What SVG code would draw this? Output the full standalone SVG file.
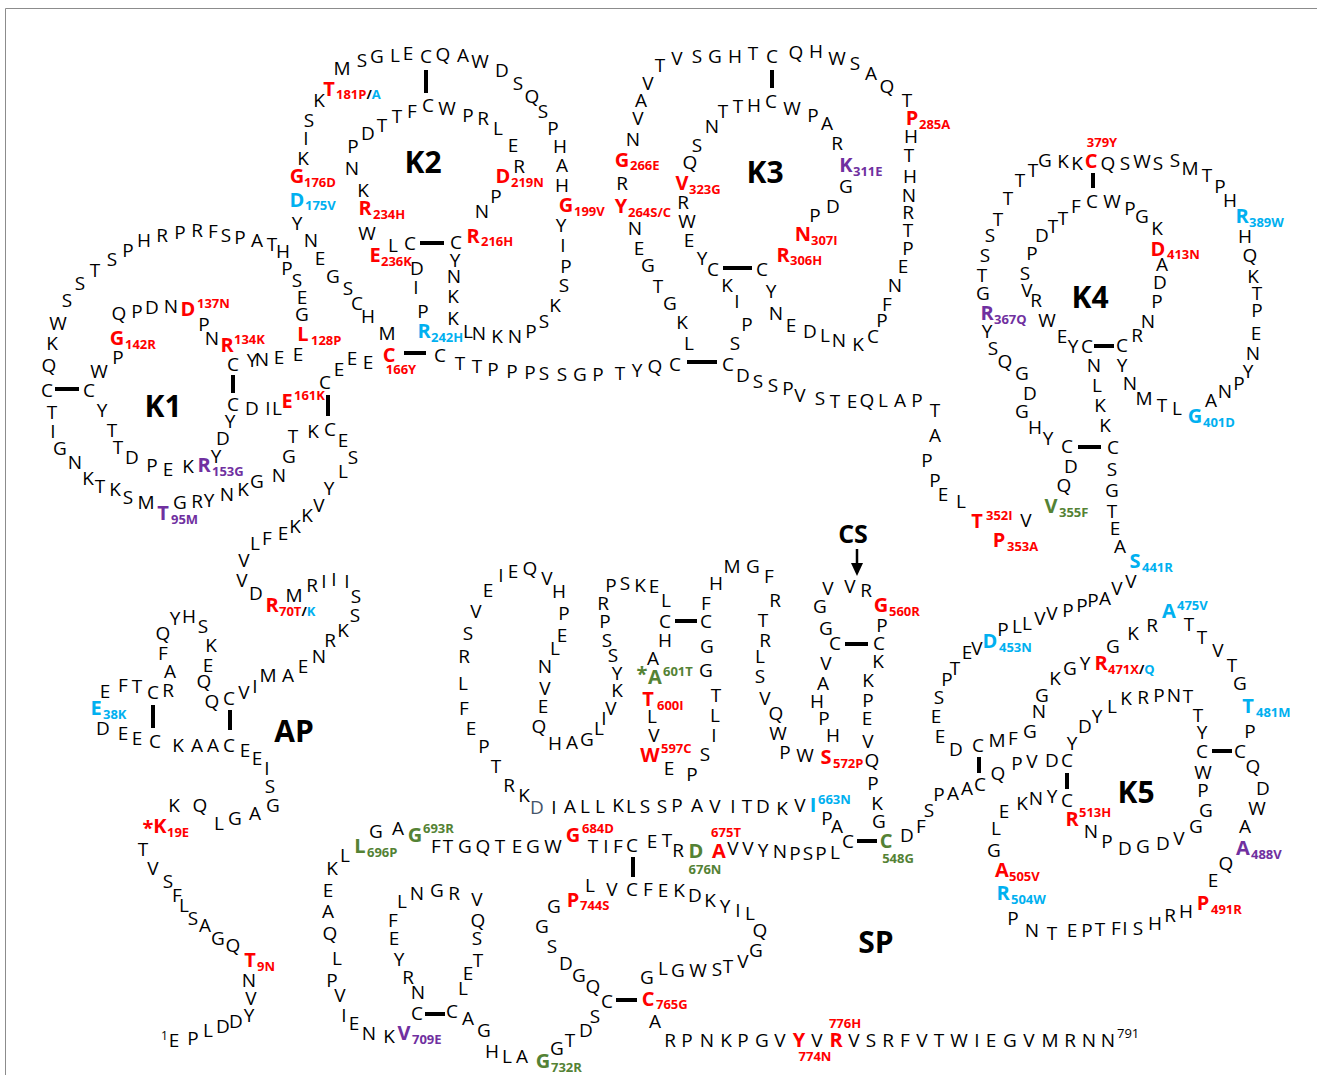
<svg xmlns="http://www.w3.org/2000/svg" width="1317" height="1075" viewBox="0 0 1317 1075">
<style>
text{font-family:"Open Sans","Liberation Sans",sans-serif}
.aa text{font-size:19px;text-anchor:middle;fill:#000}
.mu{font-size:20px;font-weight:bold;text-anchor:middle}
.sb{font-size:13px;font-weight:bold;text-anchor:start}
.sc{font-size:13px;font-weight:bold;text-anchor:middle}
.rd{fill:#ff0000}.bl{fill:#00b0f0}.pu{fill:#7030a0}.gn{fill:#548235}.sl{fill:#44546a}.bk{fill:#000}
.dom{font-size:30px;font-weight:bold;text-anchor:middle;fill:#000}
.num{font-size:12px;fill:#000}
.bar{stroke:#000;stroke-width:4;fill:none}
</style>
<rect width="1317" height="1075" fill="#fff"/>
<path d="M5.5 1075V8.5H1317" fill="none" stroke="#8c8c8c" stroke-width="1"/>

<!-- disulfide bridges and cleavage arrow -->
<g id="connectors">
<path class="bar" d="M55 389H79M233 375V393M328 395V416"/>
<path class="bar" d="M404 353H426M420 243H444M426 70V93"/>
<path class="bar" d="M772 70V88M723 268H752M687 362H717"/>
<path class="bar" d="M1093 173V188M1094 346H1114M1078 447H1101"/>
<path class="bar" d="M153 705V728M230 710V730"/>
<path class="bar" d="M979 757V773M1067 773V789M1212 751H1232"/>
<path class="bar" d="M845 644H868M675 621H697M857 841H877M633 857V877M425 1014H445M616 1000H637"/>
<path d="M857 549V566" stroke="#000" stroke-width="2.5"/>
<polygon points="851,563 863,563 857,576" fill="#000"/>
</g>

<g id="n-terminus">
<text class="num" x="161" y="1040">1</text>
<g class="aa">
<text x="174" y="1047">E</text><text x="193" y="1045">P</text><text x="208" y="1037">L</text><text x="223" y="1033">D</text><text x="236" y="1028">D</text><text x="249" y="1022">Y</text><text x="251" y="1005">V</text><text x="249" y="987">N</text><text x="233" y="952">Q</text><text x="218" y="945">G</text><text x="205" y="932">A</text><text x="193" y="925">S</text><text x="184" y="912">L</text><text x="177" y="902">F</text><text x="168" y="888">S</text><text x="153" y="875">V</text><text x="143" y="856">T</text><text x="174" y="812">K</text><text x="200" y="812">Q</text><text x="219" y="830">L</text><text x="235" y="825">G</text><text x="255" y="820">A</text><text x="273" y="812">G</text><text x="270" y="793">S</text><text x="267" y="775">I</text><text x="257" y="765">E</text><text x="245" y="757">E</text>
</g>
<text class="mu rd" x="250" y="967">T</text><text class="sb rd" x="257" y="971">9N</text>
<text class="mu rd" x="148" y="835">*</text><text class="mu rd" x="160" y="833">K</text><text class="sb rd" x="167" y="837">19E</text>
</g>

<g id="AP">
<g class="aa">
<text x="229" y="752">C</text><text x="213" y="752">A</text><text x="197" y="752">A</text><text x="178" y="752">K</text><text x="155" y="748">C</text><text x="137" y="745">E</text><text x="123" y="740">E</text><text x="103" y="735">D</text><text x="105" y="698">E</text><text x="123" y="692">F</text><text x="137" y="693">T</text><text x="153" y="699">C</text><text x="168" y="697">R</text><text x="170" y="678">A</text><text x="163" y="660">F</text><text x="163" y="640">Q</text><text x="175" y="625">Y</text><text x="189" y="623">H</text><text x="203" y="633">S</text><text x="211" y="652">K</text><text x="208" y="672">E</text><text x="204" y="688">Q</text><text x="212" y="708">Q</text><text x="229" y="705">C</text><text x="244" y="699">V</text><text x="255" y="693">I</text><text x="268" y="682">M</text><text x="288" y="682">A</text><text x="303" y="673">E</text><text x="319" y="663">N</text><text x="330" y="647">R</text><text x="343" y="637">K</text><text x="355" y="622">S</text><text x="356" y="603">S</text><text x="347" y="588">I</text><text x="334" y="586">I</text><text x="324" y="588">I</text><text x="312" y="592">R</text><text x="294" y="602">M</text><text x="256" y="600">D</text><text x="242" y="587">V</text><text x="244" y="567">V</text><text x="255" y="550">L</text><text x="267" y="545">F</text><text x="283" y="540">E</text><text x="295" y="533">K</text><text x="307" y="522">K</text><text x="319" y="512">V</text><text x="329" y="495">Y</text><text x="343" y="478">L</text><text x="353" y="464">S</text><text x="343" y="447">E</text>
</g>
<text class="mu bl" x="96" y="715">E</text><text class="sb bl" x="103" y="719">38K</text>
<text class="mu rd" x="272" y="612">R</text><text class="sb" x="279" y="616"><tspan class="rd">70T</tspan><tspan class="bk">/</tspan><tspan class="bl">K</tspan></text>
<text class="dom" x="294" y="742">AP</text>
</g>

<g id="K1">
<g class="aa">
<text x="330" y="436">C</text><text x="313" y="438">K</text><text x="293" y="443">T</text><text x="289" y="463">G</text><text x="279" y="482">N</text><text x="257" y="488">G</text><text x="243" y="496">K</text><text x="227" y="501">N</text><text x="209" y="507">Y</text><text x="197" y="508">R</text><text x="180" y="509">G</text><text x="146" y="509">M</text><text x="128" y="504">S</text><text x="115" y="496">K</text><text x="100" y="493">T</text><text x="88" y="485">K</text><text x="75" y="469">N</text><text x="60" y="455">G</text><text x="53" y="438">I</text><text x="52" y="419">T</text><text x="47" y="397">C</text><text x="49" y="372">Q</text><text x="52" y="350">K</text><text x="58" y="330">W</text><text x="67" y="307">S</text><text x="80" y="290">S</text><text x="95" y="277">T</text><text x="112" y="266">S</text><text x="128" y="257">P</text><text x="144" y="247">H</text><text x="162" y="242">R</text><text x="180" y="239">P</text><text x="197" y="237">R</text><text x="213" y="238">F</text><text x="226" y="242">S</text><text x="240" y="244">P</text><text x="257" y="247">A</text><text x="272" y="251">T</text><text x="283" y="258">H</text><text x="287" y="275">P</text><text x="297" y="287">S</text><text x="302" y="304">E</text><text x="302" y="321">G</text><text x="298" y="361">E</text><text x="279" y="364">E</text><text x="262" y="366">N</text><text x="252" y="367">Y</text><text x="233" y="371">C</text><text x="212" y="345">N</text><text x="204" y="331">P</text><text x="171" y="313">N</text><text x="152" y="314">D</text><text x="137" y="318">P</text><text x="119" y="320">Q</text><text x="118" y="364">P</text><text x="99" y="378">W</text><text x="89" y="397">C</text><text x="102" y="417">Y</text><text x="112" y="437">T</text><text x="118" y="454">T</text><text x="132" y="464">D</text><text x="152" y="472">P</text><text x="168" y="476">E</text><text x="188" y="473">K</text><text x="216" y="463">Y</text><text x="223" y="445">D</text><text x="230" y="428">Y</text><text x="233" y="411">C</text><text x="252" y="415">D</text><text x="268" y="415">I</text><text x="277" y="415">L</text><text x="325" y="389">C</text><text x="339" y="376">E</text><text x="352" y="365">E</text><text x="368" y="369">E</text>
</g>
<text class="mu pu" x="163" y="520">T</text><text class="sb pu" x="171" y="524">95M</text>
<text class="mu rd" x="303" y="341">L</text><text class="sb rd" x="311" y="345">128P</text>
<text class="mu rd" x="227" y="352">R</text><text class="sb rd" x="234" y="344">134K</text>
<text class="mu rd" x="188" y="316">D</text><text class="sb rd" x="197" y="308">137N</text>
<text class="mu rd" x="117" y="345">G</text><text class="sb rd" x="125" y="349">142R</text>
<text class="mu pu" x="204" y="472">R</text><text class="sb pu" x="212" y="476">153G</text>
<text class="mu rd" x="287" y="408">E</text><text class="sb rd" x="294" y="400">161K</text>
<text class="dom" x="163" y="417">K1</text>
</g>

<g id="K2">
<g class="aa">
<text x="342" y="75">M</text><text x="362" y="67">S</text><text x="377" y="63">G</text><text x="395" y="62">L</text><text x="408" y="60">E</text><text x="426" y="63">C</text><text x="443" y="61">Q</text><text x="463" y="62">A</text><text x="480" y="68">W</text><text x="502" y="77">D</text><text x="518" y="90">S</text><text x="532" y="103">Q</text><text x="543" y="118">S</text><text x="553" y="135">P</text><text x="560" y="153">H</text><text x="562" y="172">A</text><text x="562" y="192">H</text><text x="561" y="232">Y</text><text x="563" y="252">I</text><text x="566" y="273">P</text><text x="564" y="292">S</text><text x="555" y="312">K</text><text x="544" y="328">S</text><text x="531" y="338">P</text><text x="515" y="343">N</text><text x="497" y="343">K</text><text x="479" y="340">N</text><text x="468" y="338">L</text><text x="453" y="325">K</text><text x="453" y="303">K</text><text x="454" y="283">N</text><text x="455" y="267">Y</text><text x="456" y="249">C</text><text x="410" y="250">C</text><text x="393" y="252">L</text><text x="417" y="275">D</text><text x="416" y="294">I</text><text x="423" y="318">P</text><text x="440" y="362">C</text><text x="387" y="340">M</text><text x="368" y="323">H</text><text x="357" y="310">C</text><text x="348" y="295">S</text><text x="333" y="283">G</text><text x="320" y="265">E</text><text x="311" y="247">N</text><text x="297" y="230">Y</text><text x="303" y="165">K</text><text x="306" y="145">I</text><text x="309" y="127">S</text><text x="319" y="107">K</text><text x="368" y="140">D</text><text x="382" y="132">T</text><text x="397" y="123">T</text><text x="412" y="118">F</text><text x="428" y="112">C</text><text x="447" y="115">W</text><text x="468" y="122">P</text><text x="483" y="125">R</text><text x="498" y="135">L</text><text x="513" y="152">E</text><text x="519" y="173">R</text><text x="496" y="203">P</text><text x="482" y="218">N</text><text x="353" y="153">P</text><text x="352" y="175">N</text><text x="363" y="197">K</text><text x="367" y="240">W</text>
</g>
<text class="mu rd" x="389" y="362">C</text><text class="sc rd" x="401" y="374">166Y</text>
<text class="mu rd" x="566" y="212">G</text><text class="sb rd" x="574" y="216">199V</text>
<text class="mu bl" x="424" y="338">R</text><text class="sb bl" x="431" y="342">242H</text>
<text class="mu bl" x="297" y="207">D</text><text class="sb bl" x="305" y="210">175V</text>
<text class="mu rd" x="297" y="183">G</text><text class="sb rd" x="304" y="187">176D</text>
<text class="mu rd" x="329" y="96">T</text><text class="sb" x="336" y="99"><tspan class="rd">181P</tspan><tspan class="bk">/</tspan><tspan class="bl">A</tspan></text>
<text class="mu rd" x="503" y="183">D</text><text class="sb rd" x="511" y="187">219N</text>
<text class="mu rd" x="473" y="243">R</text><text class="sb rd" x="481" y="246">216H</text>
<text class="mu rd" x="365" y="215">R</text><text class="sb rd" x="373" y="219">234H</text>
<text class="mu rd" x="375" y="262">E</text><text class="sb rd" x="381" y="266">236K</text>
<text class="dom" x="423" y="173">K2</text>
</g>

<g id="linker-K2-K3" class="aa">
<text x="460" y="370">T</text><text x="477" y="373">T</text><text x="493" y="376">P</text><text x="512" y="378">P</text><text x="530" y="379">P</text><text x="544" y="380">S</text><text x="562" y="381">S</text><text x="580" y="381">G</text><text x="598" y="381">P</text><text x="620" y="380">T</text><text x="637" y="377">Y</text><text x="655" y="373">Q</text>
</g>

<g id="K3">
<g class="aa">
<text x="633" y="146">N</text><text x="638" y="125">V</text><text x="641" y="107">A</text><text x="648" y="90">V</text><text x="660" y="72">T</text><text x="677" y="65">V</text><text x="697" y="63">S</text><text x="715" y="63">G</text><text x="735" y="63">H</text><text x="753" y="60">T</text><text x="772" y="63">C</text><text x="796" y="59">Q</text><text x="816" y="58">H</text><text x="837" y="65">W</text><text x="855" y="70">S</text><text x="871" y="80">A</text><text x="887" y="93">Q</text><text x="907" y="107">T</text><text x="911" y="143">H</text><text x="909" y="162">T</text><text x="910" y="183">H</text><text x="909" y="202">N</text><text x="908" y="219">R</text><text x="908" y="237">T</text><text x="908" y="255">P</text><text x="903" y="273">E</text><text x="895" y="292">N</text><text x="887" y="311">F</text><text x="882" y="327">P</text><text x="873" y="343">C</text><text x="858" y="351">K</text><text x="839" y="347">N</text><text x="825" y="342">L</text><text x="810" y="338">D</text><text x="791" y="332">E</text><text x="776" y="320">N</text><text x="771" y="298">Y</text><text x="762" y="276">C</text><text x="713" y="276">C</text><text x="702" y="265">Y</text><text x="689" y="247">E</text><text x="687" y="228">W</text><text x="683" y="209">R</text><text x="690" y="169">Q</text><text x="697" y="152">S</text><text x="712" y="133">N</text><text x="723" y="118">T</text><text x="738" y="113">T</text><text x="754" y="112">H</text><text x="771" y="108">C</text><text x="792" y="115">W</text><text x="813" y="122">P</text><text x="827" y="130">A</text><text x="837" y="150">R</text><text x="846" y="193">G</text><text x="833" y="213">D</text><text x="815" y="222">P</text><text x="727" y="292">K</text><text x="737" y="308">I</text><text x="747" y="331">P</text><text x="735" y="350">S</text><text x="728" y="371">C</text><text x="675" y="371">C</text><text x="689" y="350">L</text><text x="682" y="329">K</text><text x="670" y="310">G</text><text x="658" y="293">T</text><text x="648" y="272">G</text><text x="639" y="255">E</text><text x="635" y="235">N</text><text x="622" y="190">R</text>
</g>
<text class="mu rd" x="622" y="167">G</text><text class="sb rd" x="630" y="170">266E</text>
<text class="mu rd" x="912" y="125">P</text><text class="sb rd" x="919" y="129">285A</text>
<text class="mu rd" x="682" y="190">V</text><text class="sb rd" x="689" y="194">323G</text>
<text class="mu pu" x="846" y="172">K</text><text class="sb pu" x="853" y="176">311E</text>
<text class="mu rd" x="803" y="241">N</text><text class="sb rd" x="811" y="245">307I</text>
<text class="mu rd" x="783" y="262">R</text><text class="sb rd" x="790" y="265">306H</text>
<text class="mu rd" x="621" y="213">Y</text><text class="sb rd" x="628" y="217">264S/C</text>
<text class="dom" x="765" y="183">K3</text>
</g>

<g id="linker-K3-K4">
<g class="aa">
<text x="743" y="382">D</text><text x="758" y="388">S</text><text x="773" y="392">S</text><text x="788" y="395">P</text><text x="800" y="402">V</text><text x="820" y="405">S</text><text x="835" y="408">T</text><text x="852" y="408">E</text><text x="867" y="407">Q</text><text x="883" y="407">L</text><text x="900" y="407">A</text><text x="917" y="407">P</text><text x="935" y="417">T</text><text x="935" y="442">A</text><text x="927" y="467">P</text><text x="935" y="487">P</text><text x="943" y="501">E</text><text x="961" y="508">L</text><text x="1026" y="527">V</text><text x="1064" y="492">Q</text><text x="1071" y="473">D</text>
</g>
<text class="mu rd" x="977" y="528">T</text><text class="sb rd" x="986" y="520">352I</text>
<text class="mu rd" x="999" y="547">P</text><text class="sb rd" x="1007" y="551">353A</text>
<text class="mu gn" x="1051" y="513">V</text><text class="sb gn" x="1059" y="517">355F</text>
</g>

<g id="K4">
<g class="aa">
<text x="1067" y="453">C</text><text x="1048" y="445">Y</text><text x="1035" y="434">H</text><text x="1022" y="418">G</text><text x="1030" y="400">D</text><text x="1022" y="380">G</text><text x="1005" y="368">Q</text><text x="993" y="355">S</text><text x="987" y="338">Y</text><text x="983" y="300">G</text><text x="982" y="282">T</text><text x="985" y="262">S</text><text x="990" y="242">S</text><text x="998" y="226">T</text><text x="1008" y="205">T</text><text x="1020" y="187">T</text><text x="1033" y="177">T</text><text x="1045" y="167">G</text><text x="1063" y="168">K</text><text x="1077" y="170">K</text><text x="1108" y="170">Q</text><text x="1125" y="170">S</text><text x="1142" y="168">W</text><text x="1158" y="170">S</text><text x="1175" y="167">S</text><text x="1190" y="175">M</text><text x="1207" y="182">T</text><text x="1220" y="193">P</text><text x="1230" y="207">H</text><text x="1245" y="243">H</text><text x="1250" y="262">Q</text><text x="1253" y="283">K</text><text x="1257" y="300">T</text><text x="1257" y="317">P</text><text x="1256" y="340">E</text><text x="1253" y="360">N</text><text x="1248" y="378">Y</text><text x="1239" y="390">P</text><text x="1225" y="398">N</text><text x="1211" y="407">A</text><text x="1177" y="415">L</text><text x="1162" y="412">T</text><text x="1144" y="405">M</text><text x="1130" y="390">N</text><text x="1122" y="372">Y</text><text x="1122" y="352">C</text><text x="1137" y="342">R</text><text x="1148" y="328">N</text><text x="1157" y="308">P</text><text x="1160" y="289">D</text><text x="1162" y="271">A</text><text x="1157" y="235">K</text><text x="1142" y="223">G</text><text x="1130" y="215">P</text><text x="1112" y="208">W</text><text x="1092" y="208">C</text><text x="1076" y="213">F</text><text x="1063" y="225">T</text><text x="1053" y="233">T</text><text x="1042" y="242">D</text><text x="1032" y="260">P</text><text x="1025" y="280">S</text><text x="1027" y="297">V</text><text x="1036" y="307">R</text><text x="1047" y="327">W</text><text x="1062" y="343">E</text><text x="1073" y="353">Y</text><text x="1087" y="353">C</text><text x="1094" y="372">N</text><text x="1097" y="392">L</text><text x="1100" y="412">K</text><text x="1105" y="432">K</text><text x="1113" y="454">C</text><text x="1112" y="476">S</text><text x="1112" y="497">G</text><text x="1112" y="518">T</text><text x="1115" y="535">E</text><text x="1120" y="553">A</text>
</g>
<text class="mu pu" x="987" y="320">R</text><text class="sb pu" x="994" y="324">367Q</text>
<text class="mu rd" x="1091" y="168">C</text><text class="sc rd" x="1102" y="147">379Y</text>
<text class="mu bl" x="1242" y="223">R</text><text class="sb bl" x="1249" y="227">389W</text>
<text class="mu bl" x="1195" y="423">G</text><text class="sb bl" x="1203" y="427">401D</text>
<text class="mu rd" x="1158" y="256">D</text><text class="sb rd" x="1167" y="259">413N</text>
<text class="mu bl" x="1135" y="568">S</text><text class="sb bl" x="1142" y="572">441R</text>
<text class="dom" x="1090" y="308">K4</text>
</g>

<g id="linker-K4-K5">
<g class="aa">
<text x="1131" y="588">V</text><text x="1117" y="595">V</text><text x="1105" y="605">A</text><text x="1093" y="607">P</text><text x="1082" y="612">P</text><text x="1068" y="617">P</text><text x="1052" y="620">V</text><text x="1040" y="625">V</text><text x="1027" y="630">L</text><text x="1017" y="633">L</text><text x="1003" y="636">P</text><text x="977" y="655">V</text><text x="967" y="659">E</text><text x="955" y="675">T</text><text x="947" y="686">P</text><text x="939" y="704">S</text><text x="936" y="723">E</text><text x="940" y="743">E</text><text x="956" y="756">D</text><text x="978" y="752">C</text><text x="980" y="791">C</text><text x="967" y="795">A</text><text x="953" y="800">A</text><text x="939" y="801">P</text><text x="929" y="817">S</text><text x="921" y="833">F</text><text x="907" y="842">D</text>
</g>
<text class="mu bl" x="990" y="648">D</text><text class="sb bl" x="999" y="652">453N</text>
</g>

<g id="K5">
<g class="aa">
<text x="997" y="747">M</text><text x="1013" y="745">F</text><text x="1030" y="738">G</text><text x="1039" y="718">N</text><text x="1042" y="702">G</text><text x="1055" y="685">K</text><text x="1070" y="675">G</text><text x="1085" y="670">Y</text><text x="1113" y="653">G</text><text x="1133" y="640">K</text><text x="1152" y="632">R</text><text x="1189" y="631">T</text><text x="1202" y="644">T</text><text x="1218" y="657">V</text><text x="1232" y="672">T</text><text x="1240" y="690">G</text><text x="1250" y="738">P</text><text x="1240" y="758">C</text><text x="1202" y="758">C</text><text x="1253" y="773">Q</text><text x="1263" y="795">D</text><text x="1257" y="815">W</text><text x="1245" y="833">A</text><text x="1226" y="870">Q</text><text x="1213" y="887">E</text><text x="1186" y="918">H</text><text x="1170" y="922">R</text><text x="1155" y="930">H</text><text x="1138" y="935">S</text><text x="1125" y="935">I</text><text x="1116" y="935">F</text><text x="1100" y="936">T</text><text x="1087" y="937">P</text><text x="1072" y="937">E</text><text x="1052" y="940">T</text><text x="1032" y="937">N</text><text x="1013" y="925">P</text><text x="994" y="857">G</text><text x="996" y="835">L</text><text x="1004" y="818">E</text><text x="1022" y="810">K</text><text x="1036" y="805">N</text><text x="1052" y="803">Y</text><text x="1067" y="807">C</text><text x="1067" y="767">C</text><text x="1052" y="767">D</text><text x="1032" y="768">V</text><text x="1017" y="770">P</text><text x="998" y="780">Q</text><text x="1072" y="750">Y</text><text x="1085" y="733">D</text><text x="1097" y="723">Y</text><text x="1112" y="713">L</text><text x="1126" y="705">K</text><text x="1143" y="704">R</text><text x="1159" y="702">P</text><text x="1174" y="702">N</text><text x="1188" y="703">T</text><text x="1198" y="722">T</text><text x="1202" y="739">Y</text><text x="1203" y="779">W</text><text x="1203" y="797">P</text><text x="1206" y="817">G</text><text x="1196" y="833">G</text><text x="1179" y="845">V</text><text x="1163" y="850">D</text><text x="1143" y="853">G</text><text x="1125" y="855">D</text><text x="1107" y="848">P</text><text x="1091" y="838">N</text>
</g>
<text class="mu rd" x="1101" y="670">R</text><text class="sb" x="1108" y="674"><tspan class="rd">471X</tspan><tspan class="bk">/</tspan><tspan class="bl">Q</tspan></text>
<text class="mu bl" x="1169" y="618">A</text><text class="sb bl" x="1177" y="610">475V</text>
<text class="mu bl" x="1248" y="713">T</text><text class="sb bl" x="1256" y="717">481M</text>
<text class="mu pu" x="1243" y="855">A</text><text class="sb pu" x="1251" y="859">488V</text>
<text class="mu rd" x="1203" y="910">P</text><text class="sb rd" x="1211" y="914">491R</text>
<text class="mu bl" x="1003" y="900">R</text><text class="sb bl" x="1011" y="904">504W</text>
<text class="mu rd" x="1002" y="877">A</text><text class="sb rd" x="1009" y="881">505V</text>
<text class="mu rd" x="1072" y="826">R</text><text class="sb rd" x="1079" y="817">513H</text>
<text class="dom" x="1136" y="803">K5</text>
</g>

<g id="SP">
<g class="aa">
<text x="828" y="595">V</text><text x="850" y="593">V</text><text x="866" y="597">R</text><text x="882" y="632">P</text><text x="879" y="650">C</text><text x="835" y="650">C</text><text x="826" y="635">G</text><text x="820" y="613">G</text><text x="878" y="668">K</text><text x="868" y="687">K</text><text x="868" y="707">P</text><text x="867" y="725">E</text><text x="868" y="748">V</text><text x="872" y="767">Q</text><text x="873" y="790">P</text><text x="877" y="810">K</text><text x="879" y="828">G</text><text x="826" y="670">V</text><text x="823" y="690">A</text><text x="817" y="708">H</text><text x="824" y="725">P</text><text x="833" y="742">H</text><text x="805" y="762">W</text><text x="785" y="759">P</text><text x="778" y="740">W</text><text x="776" y="720">Q</text><text x="765" y="705">V</text><text x="760" y="683">S</text><text x="760" y="663">L</text><text x="765" y="647">R</text><text x="763" y="627">T</text><text x="775" y="607">R</text><text x="769" y="583">F</text><text x="753" y="573">G</text><text x="732" y="573">M</text><text x="716" y="590">H</text><text x="706" y="610">F</text><text x="706" y="628">C</text><text x="665" y="628">C</text><text x="666" y="607">L</text><text x="654" y="593">E</text><text x="640" y="592">K</text><text x="625" y="590">S</text><text x="611" y="592">P</text><text x="603" y="610">R</text><text x="605" y="628">P</text><text x="607" y="647">S</text><text x="613" y="662">S</text><text x="617" y="680">Y</text><text x="617" y="697">K</text><text x="611" y="715">V</text><text x="604" y="725">I</text><text x="599" y="735">L</text><text x="587" y="746">G</text><text x="572" y="749">A</text><text x="555" y="750">H</text><text x="539" y="733">Q</text><text x="543" y="713">E</text><text x="545" y="695">V</text><text x="545" y="673">N</text><text x="555" y="655">L</text><text x="562" y="642">E</text><text x="564" y="620">P</text><text x="559" y="598">H</text><text x="547" y="585">V</text><text x="530" y="575">Q</text><text x="513" y="578">E</text><text x="501" y="582">I</text><text x="488" y="597">E</text><text x="476" y="618">V</text><text x="468" y="640">S</text><text x="464" y="663">R</text><text x="463" y="690">L</text><text x="464" y="715">F</text><text x="471" y="735">E</text><text x="484" y="753">P</text><text x="496" y="773">T</text><text x="509" y="792">R</text><text x="524" y="802">K</text><text x="554" y="814">I</text><text x="570" y="813">A</text><text x="585" y="813">L</text><text x="600" y="813">L</text><text x="618" y="812">K</text><text x="631" y="813">L</text><text x="645" y="813">S</text><text x="662" y="813">S</text><text x="677" y="812">P</text><text x="697" y="812">A</text><text x="715" y="813">V</text><text x="733" y="813">I</text><text x="747" y="813">T</text><text x="763" y="813">D</text><text x="782" y="815">K</text><text x="800" y="812">V</text><text x="665" y="647">H</text><text x="653" y="665">A</text><text x="652" y="723">L</text><text x="654" y="742">V</text><text x="669" y="775">E</text><text x="692" y="781">P</text><text x="705" y="761">S</text><text x="714" y="742">I</text><text x="715" y="722">L</text><text x="716" y="702">T</text><text x="706" y="677">G</text><text x="707" y="653">G</text><text x="827" y="825">P</text><text x="837" y="833">A</text><text x="848" y="848">C</text><text x="835" y="859">L</text><text x="821" y="860">P</text><text x="808" y="860">S</text><text x="795" y="860">P</text><text x="780" y="858">N</text><text x="763" y="857">Y</text><text x="748" y="855">V</text><text x="733" y="855">V</text><text x="678" y="857">R</text><text x="667" y="847">T</text><text x="652" y="848">E</text><text x="632" y="852">C</text><text x="618" y="853">F</text><text x="606" y="853">I</text><text x="593" y="853">T</text><text x="553" y="853">W</text><text x="533" y="853">G</text><text x="517" y="853">E</text><text x="500" y="853">T</text><text x="483" y="853">Q</text><text x="465" y="853">G</text><text x="448" y="853">T</text><text x="436" y="853">F</text><text x="398" y="835">A</text><text x="376" y="838">G</text><text x="345" y="862">L</text><text x="332" y="875">K</text><text x="328" y="897">E</text><text x="328" y="918">A</text><text x="330" y="940">Q</text><text x="337" y="965">L</text><text x="332" y="987">P</text><text x="340" y="1002">V</text><text x="344" y="1022">I</text><text x="354" y="1030">E</text><text x="369" y="1040">N</text><text x="389" y="1043">K</text><text x="417" y="1020">C</text><text x="452" y="1018">C</text><text x="468" y="1025">A</text><text x="484" y="1037">G</text><text x="492" y="1058">H</text><text x="507" y="1063">L</text><text x="522" y="1063">A</text><text x="557" y="1055">G</text><text x="570" y="1047">T</text><text x="586" y="1037">D</text><text x="595" y="1023">S</text><text x="607" y="1008">C</text><text x="655" y="1028">A</text><text x="670" y="1047">R</text><text x="687" y="1047">P</text><text x="707" y="1047">N</text><text x="726" y="1047">K</text><text x="743" y="1047">P</text><text x="762" y="1047">G</text><text x="780" y="1047">V</text><text x="817" y="1047">V</text><text x="854" y="1047">V</text><text x="871" y="1047">S</text><text x="888" y="1047">R</text><text x="905" y="1047">F</text><text x="922" y="1047">V</text><text x="939" y="1047">T</text><text x="959" y="1047">W</text><text x="977" y="1047">I</text><text x="991" y="1047">E</text><text x="1010" y="1047">G</text><text x="1029" y="1047">V</text><text x="1050" y="1047">M</text><text x="1070" y="1047">R</text><text x="1089" y="1047">N</text><text x="1108" y="1047">N</text><text x="593" y="993">Q</text><text x="579" y="982">G</text><text x="566" y="970">D</text><text x="552" y="953">S</text><text x="542" y="933">G</text><text x="554" y="913">G</text><text x="590" y="892">L</text><text x="612" y="896">V</text><text x="632" y="896">C</text><text x="648" y="896">F</text><text x="663" y="897">E</text><text x="679" y="897">K</text><text x="695" y="902">D</text><text x="710" y="907">K</text><text x="725" y="913">Y</text><text x="738" y="917">I</text><text x="750" y="920">L</text><text x="760" y="937">Q</text><text x="756" y="957">G</text><text x="743" y="968">V</text><text x="728" y="973">T</text><text x="717" y="976">S</text><text x="698" y="977">W</text><text x="678" y="977">G</text><text x="663" y="975">L</text><text x="647" y="984">G</text><text x="418" y="999">N</text><text x="408" y="984">R</text><text x="399" y="966">Y</text><text x="394" y="945">E</text><text x="393" y="927">F</text><text x="402" y="908">L</text><text x="417" y="900">N</text><text x="437" y="897">G</text><text x="454" y="900">R</text><text x="477" y="906">V</text><text x="478" y="927">Q</text><text x="477" y="945">S</text><text x="478" y="967">T</text><text x="468" y="980">E</text><text x="463" y="995">L</text>
</g>
<text x="537" y="814" font-size="19" text-anchor="middle" class="sl">D</text>
<text x="1117" y="1038" font-size="13">791</text>
<text class="mu rd" x="881" y="612">G</text><text class="sb rd" x="889" y="616">560R</text>
<text class="mu rd" x="826" y="764">S</text><text class="sb rd" x="833" y="768">572P</text>
<text class="mu gn" x="642" y="681">*</text><text class="mu gn" x="655" y="684">A</text><text class="sb gn" x="663" y="676">601T</text>
<text class="mu rd" x="648" y="706">T</text><text class="sb rd" x="657" y="710">600I</text>
<text class="mu rd" x="650" y="762">W</text><text class="sb rd" x="661" y="753">597C</text>
<text class="mu bl" x="813" y="812">I</text><text class="sb bl" x="818" y="804">663N</text>
<text class="mu gn" x="886" y="848">C</text><text class="sc gn" x="898" y="863">548G</text>
<text class="mu rd" x="573" y="842">G</text><text class="sb rd" x="582" y="833">684D</text>
<text class="mu rd" x="719" y="858">A</text><text class="sc rd" x="726" y="837">675T</text>
<text class="mu gn" x="696" y="858">D</text><text class="sc gn" x="705" y="874">676N</text>
<text class="mu gn" x="415" y="842">G</text><text class="sb gn" x="423" y="833">693R</text>
<text class="mu gn" x="360" y="853">L</text><text class="sb gn" x="367" y="857">696P</text>
<text class="mu pu" x="404" y="1040">V</text><text class="sb pu" x="412" y="1044">709E</text>
<text class="mu gn" x="543" y="1068">G</text><text class="sb gn" x="551" y="1072">732R</text>
<text class="mu rd" x="573" y="907">P</text><text class="sb rd" x="580" y="910">744S</text>
<text class="mu rd" x="648" y="1006">C</text><text class="sb rd" x="656" y="1009">765G</text>
<text class="mu rd" x="799" y="1047">Y</text><text class="sc rd" x="815" y="1061">774N</text>
<text class="mu rd" x="836" y="1047">R</text><text class="sc rd" x="845" y="1028">776H</text>
<text class="dom" x="876" y="953">SP</text>
<text class="dom" x="853" y="543" style="font-size:25px">CS</text>
</g>
</svg>
